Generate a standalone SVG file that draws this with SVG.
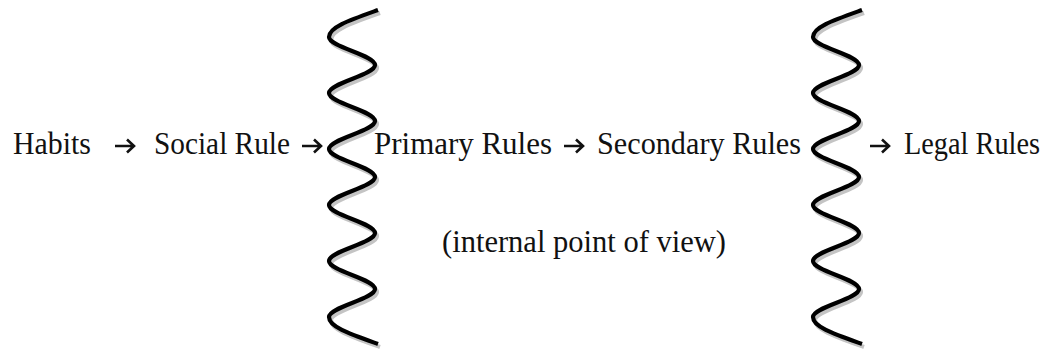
<svg xmlns="http://www.w3.org/2000/svg" xmlns:xlink="http://www.w3.org/1999/xlink" width="1056" height="352" viewBox="0 0 1056 352">
  <style>
    .lbl { font-family: "Liberation Serif", "DejaVu Serif", serif; font-size: 31px; fill: #111; }
    .arr { fill: none; stroke: #111; stroke-width: 2.6; stroke-linecap: butt; stroke-linejoin: miter; }
    .wave { fill: none; stroke: #000; stroke-width: 4.2; stroke-linecap: butt; stroke-linejoin: round; }
    .shadow { fill: none; stroke: #c4c4c4; stroke-width: 4.2; stroke-linecap: butt; }
  </style>
  <defs>
    <path id="wavePath" d="M378,10 C350,20 329,27 329,37 C329,47 375,55 375,65 C375,75 329,83 329,93 C329,103 375,111 375,121 C375,131 329,139 329,149 C329,159 375,167 375,177 C375,187 329,195 329,205 C329,215 375,223 375,233 C375,243 329,251 329,261 C329,271 375,279 375,289 C375,299 329,307 329,317 C329,327 350,334 378,344"/>
    <path id="arrowShape" d="M0,0 H19 M12,-6.5 L19,0 L12,6.5"/>
  </defs>
  <rect x="0" y="0" width="1056" height="352" fill="#fff"/>

  <g id="wave-left">
    <use xlink:href="#wavePath" class="shadow" transform="translate(2,3)"/>
    <use xlink:href="#wavePath" class="wave"/>
  </g>
  <g id="wave-right">
    <use xlink:href="#wavePath" class="shadow" transform="translate(486,3)"/>
    <use xlink:href="#wavePath" class="wave" transform="translate(484,0)"/>
  </g>

  <g id="habits"><text class="lbl" x="13" y="154" textLength="78" lengthAdjust="spacingAndGlyphs">Habits</text></g>
  <g id="social-rule"><text class="lbl" x="154" y="154" textLength="136" lengthAdjust="spacingAndGlyphs">Social Rule</text></g>
  <g id="primary-rules"><text class="lbl" x="374" y="154" textLength="178" lengthAdjust="spacingAndGlyphs">Primary Rules</text></g>
  <g id="secondary-rules"><text class="lbl" x="597" y="154" textLength="204" lengthAdjust="spacingAndGlyphs">Secondary Rules</text></g>
  <g id="legal-rules"><text class="lbl" x="904" y="154" textLength="136" lengthAdjust="spacingAndGlyphs">Legal Rules</text></g>
  <g id="internal-view"><text class="lbl" x="442" y="252" textLength="284" lengthAdjust="spacingAndGlyphs">(internal point of view)</text></g>

  <g id="connectors">
    <use xlink:href="#arrowShape" class="arr" transform="translate(115,146)"/>
    <use xlink:href="#arrowShape" class="arr" transform="translate(302,146)"/>
    <use xlink:href="#arrowShape" class="arr" transform="translate(564,146)"/>
    <use xlink:href="#arrowShape" class="arr" transform="translate(870,146)"/>
  </g>
</svg>
